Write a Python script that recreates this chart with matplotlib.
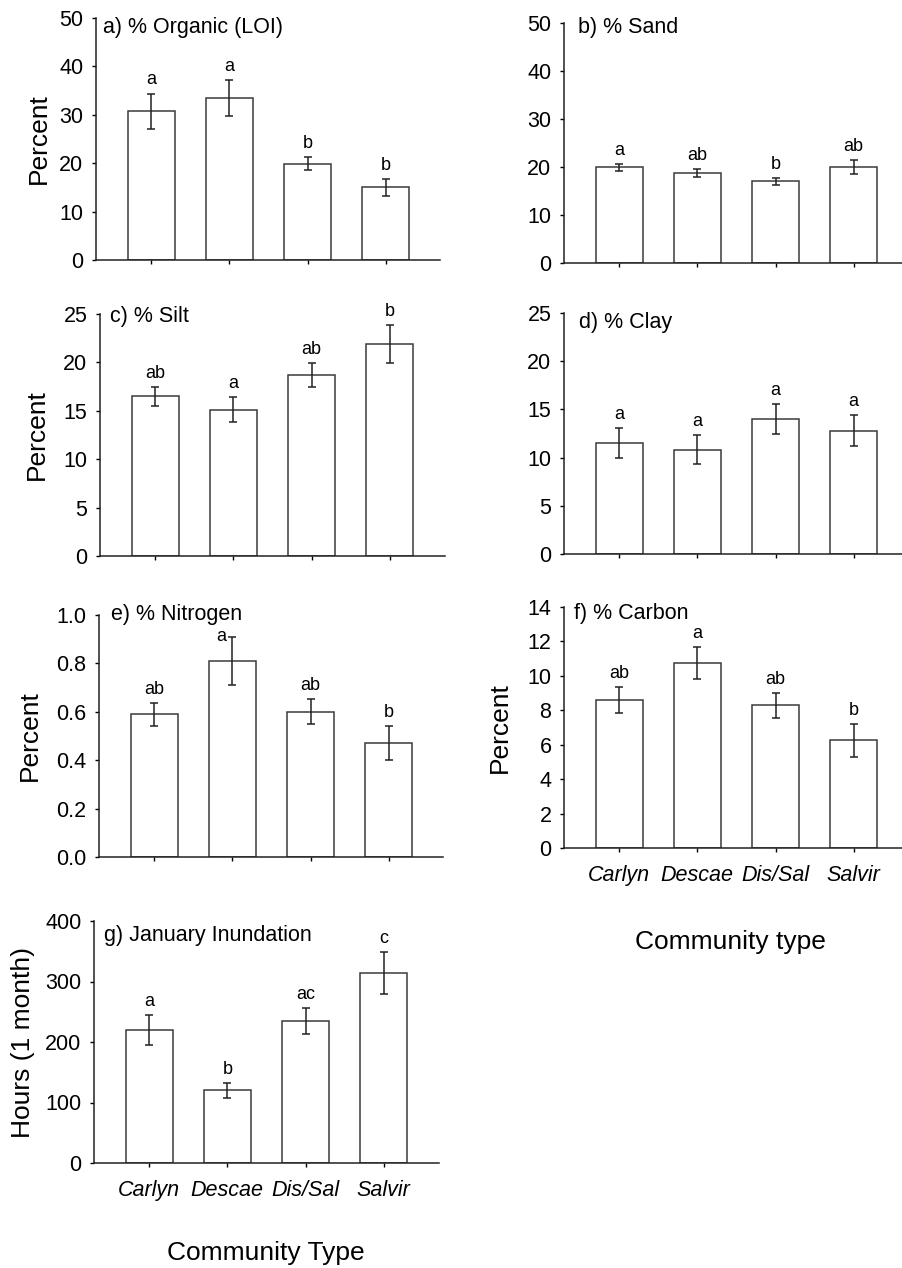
import matplotlib
matplotlib.use('Agg')
import matplotlib.pyplot as plt
from matplotlib.ticker import FormatStrFormatter

plt.rcParams['font.family'] = ['Liberation Sans', 'DejaVu Sans']

# data (means and SE)
community = ['Carlyn', 'Descae', 'Dis/Sal', 'Salvir']

organic = [30.7, 33.4, 19.9, 15.0]
organic_se = [3.7, 3.7, 1.3, 1.7]
organic_grp = ['a', 'a', 'b', 'b']

sand = [19.9, 18.7, 17.0, 20.0]
sand_se = [0.7, 0.85, 0.8, 1.4]
sand_grp = ['a', 'ab', 'b', 'ab']

silt = [16.5, 15.1, 18.7, 21.9]
silt_se = [1.0, 1.3, 1.2, 2.0]
silt_grp = ['ab', 'a', 'ab', 'b']

clay = [11.5, 10.8, 14.0, 12.8]
clay_se = [1.55, 1.5, 1.6, 1.6]
clay_grp = ['a', 'a', 'a', 'a']

nitrogen = [0.59, 0.81, 0.60, 0.47]
nitrogen_se = [0.048, 0.10, 0.052, 0.07]
nitrogen_grp = ['ab', 'a', 'ab', 'b']

carbon = [8.6, 10.75, 8.3, 6.25]
carbon_se = [0.75, 0.93, 0.72, 0.95]
carbon_grp = ['ab', 'a', 'ab', 'b']

inundation = [220, 120, 235, 314]
inundation_se = [24.5, 13, 21, 35]
inundation_grp = ['a', 'b', 'ac', 'c']

W, H = 903, 1268
fig = plt.figure(figsize=(W / 100, H / 100), dpi=100)
edge = '#3a3a3a'


def panel(px, vals, errs, grp, title, title_off, top, step, fmt='%d',
          xlabels=False, ylabel=None, ylabel_x=None):
    left, t, right, bottom = px
    ax = fig.add_axes([left / W, 1 - bottom / H, (right - left) / W, (bottom - t) / H])
    x = range(len(vals))
    ax.bar(x, vals, width=0.6, color='white', edgecolor=edge, linewidth=1.1)
    ax.errorbar(x, vals, yerr=errs, fmt='none', ecolor='#222222',
                elinewidth=1.1, capsize=3, capthick=1.1)
    for i, g in enumerate(grp):
        dx, dy = 0, 6.5
        if title.startswith('e)') and i == 1:
            dx, dy = -8, -3
        ax.annotate(g, (i, vals[i] + errs[i]), xytext=(dx, dy),
                    textcoords='offset points', ha='center', va='baseline',
                    fontsize=13)
    ax.text(title_off[0] / (right - left), 1 - title_off[1] / (bottom - t), title,
            transform=ax.transAxes, fontsize=15.5, ha='left', va='baseline')
    ax.set_ylim(0, top)
    yt = [step * k for k in range(int(round(top / step)) + 1)]
    ax.set_yticks(yt)
    ax.yaxis.set_major_formatter(FormatStrFormatter(fmt))
    # x range: 55 px margin at 78 px per category
    ax.set_xlim(-0.705, -0.705 + (right - left) / 78.2)
    ax.set_xticks(list(x))
    if xlabels:
        ax.set_xticklabels(community, fontsize=15.5, style='italic')
    else:
        ax.set_xticklabels([])
    ax.spines['top'].set_visible(False)
    ax.spines['right'].set_visible(False)
    for s in ('left', 'bottom'):
        ax.spines[s].set_color('#222222')
        ax.spines[s].set_linewidth(1.1)
    ax.tick_params(axis='y', labelsize=15.5, length=3, width=1, pad=6, direction='out')
    ax.tick_params(axis='x', length=3, width=1, pad=9, direction='out')
    if ylabel:
        fig.text(ylabel_x / W, 1 - (t + bottom) / 2 / H, ylabel, rotation=90,
                 ha='center', va='center', fontsize=19)
    return ax


panel((96, 18, 440, 260), organic, organic_se, organic_grp,
      'a) % Organic (LOI)', (7, 15), 50, 10, ylabel='Percent', ylabel_x=39)
panel((564, 23, 903, 263), sand, sand_se, sand_grp,
      'b) % Sand', (14, 10), 50, 10)
panel((100, 314, 445, 556), silt, silt_se, silt_grp,
      'c) % Silt', (10, 8), 25, 5, ylabel='Percent', ylabel_x=37)
panel((564, 313, 903, 554), clay, clay_se, clay_grp,
      'd) % Clay', (15, 15), 25, 5)
panel((99, 615, 443, 857), nitrogen, nitrogen_se, nitrogen_grp,
      'e) % Nitrogen', (12, 5), 1.0, 0.2, fmt='%.1f', ylabel='Percent', ylabel_x=30)
panel((564, 607, 903, 848), carbon, carbon_se, carbon_grp,
      'f) % Carbon', (10, 12), 14, 2, xlabels=True, ylabel='Percent', ylabel_x=500)
panel((94, 921, 439, 1163), inundation, inundation_se, inundation_grp,
      'g) January Inundation', (10, 20), 400, 100, xlabels=True,
      ylabel='Hours (1 month)', ylabel_x=23)

fig.text(730 / W, 1 - 942 / H, 'Community type', ha='center', va='center', fontsize=19)
fig.text(266 / W, 1 - 1253 / H, 'Community Type', ha='center', va='center', fontsize=19)

fig.savefig('out.png', dpi=100, facecolor='white')
